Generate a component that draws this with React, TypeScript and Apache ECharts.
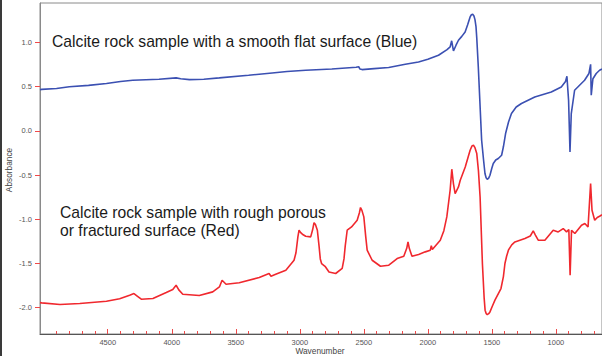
import React, { useEffect, useRef } from "react";
import * as echarts from "echarts";

// Blue spectrum: smooth flat surface
const blueWn = [5029, 5016, 4900, 4800, 4650, 4510, 4400, 4305, 4100, 3966, 3930, 3862, 3750, 3629, 3400, 3216, 3100, 2954, 2750, 2560, 2540, 2530, 2514, 2420, 2306, 2176, 2073, 2000, 1917, 1850, 1826, 1814, 1800, 1780, 1761, 1735, 1709, 1690, 1670, 1660, 1650, 1640, 1632, 1624, 1618, 1606, 1580, 1565, 1554, 1545, 1536, 1525, 1515, 1500, 1489, 1470, 1450, 1424, 1410, 1393, 1370, 1347, 1310, 1269, 1165, 1036, 958, 925, 914, 901, 890, 880, 854, 776, 742, 729, 724, 711, 685, 659, 640];
const blueAbs = [0.465, 0.47, 0.48, 0.5, 0.515, 0.536, 0.56, 0.573, 0.585, 0.6, 0.59, 0.58, 0.585, 0.6, 0.63, 0.656, 0.672, 0.686, 0.7, 0.72, 0.726, 0.7, 0.694, 0.705, 0.717, 0.754, 0.78, 0.81, 0.856, 0.92, 0.95, 1.02, 0.905, 0.97, 1.026, 1.07, 1.12, 1.2, 1.29, 1.315, 1.32, 1.3, 1.26, 1.18, 1.05, 0.724, -0.106, -0.33, -0.483, -0.53, -0.548, -0.535, -0.502, -0.42, -0.37, -0.33, -0.313, -0.276, -0.18, -0.03, 0.1, 0.196, 0.27, 0.31, 0.384, 0.44, 0.497, 0.56, 0.618, 0.347, -0.238, 0.196, 0.46, 0.573, 0.65, 0.754, 0.403, 0.59, 0.65, 0.686, 0.7];

// Red spectrum: rough porous / fractured surface
const redWn = [5029, 5016, 4873, 4718, 4510, 4407, 4329, 4295, 4270, 4238, 4147, 4043, 3992, 3966, 3945, 3914, 3785, 3680, 3628, 3607, 3576, 3473, 3317, 3240, 3225, 3193, 3109, 3045, 3030, 3015, 3006, 2995, 2980, 2954, 2915, 2900, 2889, 2878, 2863, 2850, 2840, 2830, 2803, 2772, 2720, 2669, 2655, 2645, 2630, 2596, 2552, 2535, 2526, 2515, 2500, 2485, 2474, 2435, 2370, 2305, 2240, 2188, 2165, 2155, 2145, 2124, 2072, 2020, 1981, 1973, 1965, 1903, 1875, 1852, 1826, 1813, 1800, 1787, 1761, 1747, 1708, 1670, 1655, 1644, 1632, 1618, 1605, 1592, 1574, 1560, 1553, 1544, 1536, 1525, 1515, 1495, 1476, 1429, 1410, 1398, 1385, 1371, 1345, 1320, 1242, 1200, 1177, 1160, 1138, 1086, 1021, 982, 943, 917, 899, 889, 878, 852, 800, 774, 749, 729, 718, 697, 677, 659, 640];
const redAbs = [-1.945, -1.948, -1.966, -1.955, -1.929, -1.9, -1.861, -1.842, -1.87, -1.906, -1.898, -1.83, -1.796, -1.748, -1.8, -1.85, -1.864, -1.823, -1.767, -1.691, -1.736, -1.72, -1.66, -1.615, -1.646, -1.627, -1.578, -1.465, -1.38, -1.2, -1.125, -1.15, -1.17, -1.193, -1.2, -1.12, -1.04, -1.06, -1.125, -1.3, -1.45, -1.502, -1.533, -1.597, -1.615, -1.558, -1.45, -1.3, -1.125, -1.088, -1.012, -0.93, -0.868, -0.9, -0.974, -1.2, -1.351, -1.465, -1.533, -1.521, -1.446, -1.42, -1.33, -1.257, -1.33, -1.42, -1.4, -1.37, -1.351, -1.3, -1.343, -1.238, -1.13, -0.974, -0.672, -0.434, -0.6, -0.71, -0.635, -0.559, -0.408, -0.219, -0.17, -0.163, -0.19, -0.257, -0.45, -0.748, -1.502, -1.9, -2.03, -2.07, -2.08, -2.07, -2.05, -1.98, -1.917, -1.785, -1.65, -1.502, -1.42, -1.351, -1.29, -1.257, -1.219, -1.19, -1.133, -1.18, -1.238, -1.238, -1.125, -1.144, -1.106, -1.144, -1.117, -1.634, -1.125, -1.162, -1.068, -1.049, -1.088, -0.596, -0.899, -1.012, -0.98, -0.966, -0.95];

const xLabelValues = [4500, 4000, 3500, 3000, 2500, 2000, 1500, 1000];
const xMinorTickValues = [700, 800, 900, 1000, 1100, 1200, 1300, 1400, 1500, 1600, 1700, 1800, 1900, 2000, 2100, 2200, 2300, 2400, 2500, 2600, 2700, 2800, 2900, 3000, 3100, 3200, 3300, 3400, 3500, 3600, 3700, 3800, 3900, 4000, 4100, 4200, 4300, 4400, 4500, 4600, 4700, 4800, 4900];
const yTickValues = [-2.0, -1.5, -1.0, -0.5, 0.0, 0.5, 1.0];

const blueLabel = "Calcite rock sample with a smooth flat surface (Blue)";
const redLabel1 = "Calcite rock sample with rough porous";
const redLabel2 = "or fractured surface (Red)";

export default function App() {
  const ref = useRef<HTMLDivElement>(null);
  useEffect(() => {
    if (!ref.current) return;
    const chart = echarts.init(ref.current, null, { renderer: "svg" });
    const font = "'Liberation Sans', Arial, sans-serif";
    const tickRed = "#ee4a4a";
    chart.setOption({
      animation: false,
      backgroundColor: "#ffffff",
      grid: {
        left: 40,
        right: -2,
        top: 3,
        bottom: 22,
        show: true,
        borderColor: "#8a8a8a",
        borderWidth: 1,
        backgroundColor: "transparent",
      },
      xAxis: [
        {
          type: "value",
          inverse: true,
          min: 640,
          max: 5029,
          position: "bottom",
          axisLine: { show: true, onZero: false, lineStyle: { color: "#555", width: 1 } },
          axisTick: {
            show: true,
            inside: true,
            length: 3,
            customValues: xMinorTickValues,
            lineStyle: { color: tickRed, width: 1 },
          },
          axisLabel: {
            show: true,
            customValues: xLabelValues,
            margin: 4,
            fontSize: 7.5,
            fontFamily: font,
            color: "#555",
            formatter: (v: number) => String(v),
          },
          splitLine: { show: false },
        },
        {
          type: "value",
          inverse: true,
          min: 640,
          max: 5029,
          position: "bottom",
          axisLine: { show: false, onZero: false },
          axisTick: {
            show: true,
            inside: true,
            length: 5,
            customValues: xLabelValues,
            lineStyle: { color: tickRed, width: 1 },
          },
          axisLabel: { show: false },
          splitLine: { show: false },
        },
      ],
      yAxis: {
        type: "value",
        min: -2.3,
        max: 1.448,
        axisLine: { show: true, onZero: false, lineStyle: { color: "#8a8a8a", width: 1 } },
        axisTick: {
          show: true,
          inside: false,
          length: 5,
          customValues: yTickValues,
          lineStyle: { color: tickRed, width: 1 },
        },
        axisLabel: {
          show: true,
          customValues: yTickValues,
          margin: 8,
          fontSize: 7.5,
          fontFamily: font,
          color: "#555",
          formatter: (v: number) => v.toFixed(1),
        },
        splitLine: { show: false },
      },
      series: [
        {
          type: "line",
          xAxisIndex: 0,
          data: blueWn.map((w, i) => [w, blueAbs[i]]),
          showSymbol: false,
          smooth: false,
          lineStyle: { color: "#3b50b2", width: 1.6 },
          itemStyle: { color: "#3b50b2" },
        },
        {
          type: "line",
          xAxisIndex: 0,
          data: redWn.map((w, i) => [w, redAbs[i]]),
          showSymbol: false,
          smooth: false,
          lineStyle: { color: "#f0282e", width: 1.6 },
          itemStyle: { color: "#f0282e" },
        },
      ],
      graphic: [
        { type: "rect", left: 0, top: 0, shape: { x: 0, y: 0, width: 2, height: 356 }, style: { fill: "#3a3a3a" }, silent: true },
        {
          type: "text",
          x: 9,
          y: 170,
          rotation: Math.PI / 2,
          style: { text: "Absorbance", fontSize: 8.3, fontFamily: font, fill: "#444", textAlign: "center", textVerticalAlign: "middle" },
        },
        {
          type: "text",
          x: 320,
          y: 351,
          style: { text: "Wavenumber", fontSize: 8.3, fontFamily: font, fill: "#444", textAlign: "center", textVerticalAlign: "middle" },
        },
        {
          type: "text",
          x: 52,
          y: 41,
          style: { text: blueLabel, fontSize: 15.7, fontFamily: font, fill: "#1a1a1a", textAlign: "left", textVerticalAlign: "middle" },
        },
        {
          type: "text",
          x: 60,
          y: 212,
          style: { text: redLabel1, fontSize: 15.7, fontFamily: font, fill: "#1a1a1a", textAlign: "left", textVerticalAlign: "middle" },
        },
        {
          type: "text",
          x: 60,
          y: 230,
          style: { text: redLabel2, fontSize: 15.7, fontFamily: font, fill: "#1a1a1a", textAlign: "left", textVerticalAlign: "middle" },
        },
      ],
    });
    return () => chart.dispose();
  }, []);
  return <div ref={ref} style={{ position: "absolute", left: 0, top: 0, width: 602, height: 356 }} />;
}
